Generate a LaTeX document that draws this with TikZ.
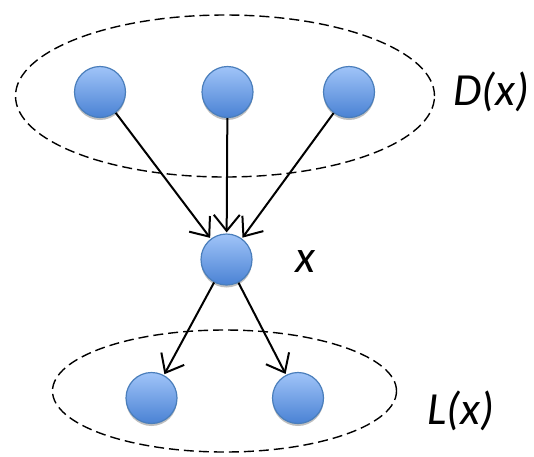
\documentclass[tikz,border=0pt]{standalone}
\usepackage{fontspec}
\setmainfont{Carlito}
\usetikzlibrary{arrows.meta,shadows,shapes.geometric}
\definecolor{balltop}{HTML}{A0C4F8}
\definecolor{ballbot}{HTML}{4A82D4}
\definecolor{ballrim}{HTML}{4A7EBB}
\begin{document}
\begin{tikzpicture}[x=1pt,y=-1pt,
  ball/.style={circle,minimum size=51pt,inner sep=0pt,draw=ballrim,line width=1.2pt,
    top color=balltop,bottom color=ballbot,
    drop shadow={opacity=0.25,shadow xshift=0pt,shadow yshift=-2.5pt,fill=black}},
  group/.style={ellipse,draw=black,line width=1.4pt,dash pattern=on 10pt off 5pt,inner sep=0pt},
  edge/.style={-{Straight Barb[length=16pt,width=26pt,line width=2pt]},line width=2pt,shorten >=1pt},
  lab/.style={font=\fontsize{46}{50}\selectfont\itshape,inner sep=0pt,anchor=base west}]
  \useasboundingbox (0,0) rectangle (534,456);
  % the two dashed groups
  \node[group,minimum width=419pt,minimum height=162pt] (dset) at (225,96) {};
  \node[group,minimum width=344pt,minimum height=122pt] (lset) at (224.5,391) {};
  % nodes
  \node[ball] (d1) at (100,92) {};
  \node[ball] (d2) at (227.5,92) {};
  \node[ball] (d3) at (349,92) {};
  \node[ball] (x)  at (226.5,259.5) {};
  \node[ball] (l1) at (151.5,398) {};
  \node[ball] (l2) at (298,398) {};
  % labels
  \node[lab] (dlab) at (453,105) {D(x)};
  \node[lab] (xlab) at (295,272) {x};
  \node[lab] (llab) at (427,424) {L(x)};
  % edges
  \draw[edge] (d1) -- (x);
  \draw[edge] (d2) -- (x);
  \draw[edge] (d3) -- (x);
  \draw[edge] (x) -- (l1);
  \draw[edge] (x) -- (l2);
\end{tikzpicture}
\end{document}
